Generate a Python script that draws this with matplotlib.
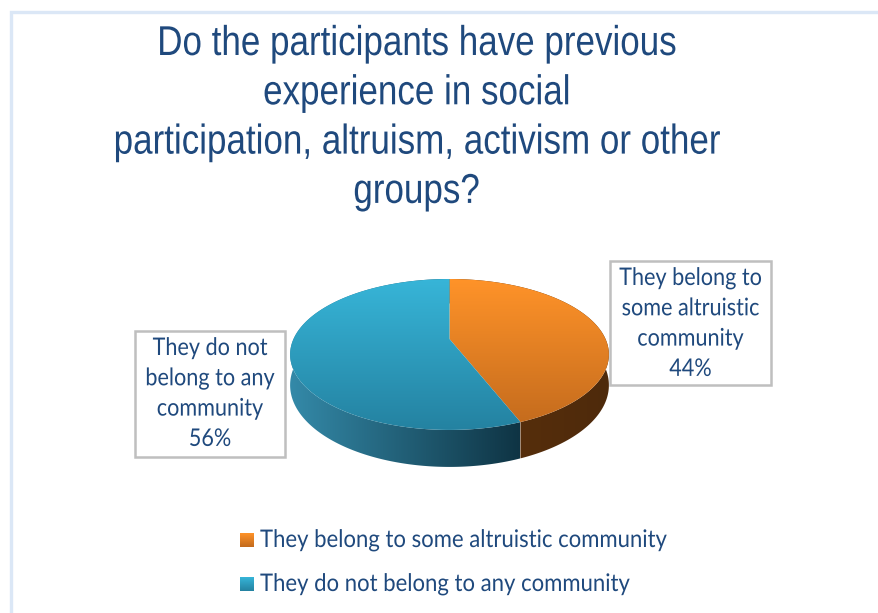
import numpy as np
import matplotlib
matplotlib.use("Agg")
import matplotlib.pyplot as plt
from matplotlib import font_manager as fm
from matplotlib.colors import LinearSegmentedColormap
from matplotlib.patches import Polygon, Rectangle
from matplotlib.patheffects import AbstractPathEffect
from matplotlib.transforms import Affine2D

title_lines = ["Do the participants have previous", "experience in social",
               "participation, altruism, activism or other", "groups?"]
categories = ["They belong to some altruistic community", "They do not belong to any community"]
values = [44, 56]
callouts = [["They belong to", "some altruistic", "community"],
            ["They do not", "belong to any", "community"]]

NAVY = "#1f497d"
names = {f.name for f in fm.fontManager.ttflist}
narrow = "Liberation Sans Narrow" in names
title_font = "Liberation Sans Narrow" if narrow else "Liberation Sans"


class Condense(AbstractPathEffect):
    """Narrow a text's glyphs horizontally around a fixed x position (in pixels)."""

    def __init__(self, factor, x_px):
        super().__init__()
        self.factor = factor
        self.x_px = x_px

    def draw_path(self, renderer, gc, tpath, affine, rgbFace=None):
        squeeze = Affine2D().translate(-self.x_px, 0).scale(self.factor, 1).translate(self.x_px, 0)
        renderer.draw_path(gc, tpath, affine + squeeze, rgbFace)


fig = plt.figure(figsize=(8.79, 6.13), dpi=100)
ax = fig.add_axes([0, 0, 1, 1])
ax.set_xlim(0, 879)
ax.set_ylim(613, 0)
ax.axis("off")

# chart frame: only the top and left edges fall inside the canvas
ax.plot([11, 11, 879], [613, 11.5, 11.5], color="#dbe7f6", lw=2.4, solid_joinstyle="miter")

TITLE_X = 416.5
for i, line in enumerate(title_lines):
    t = ax.text(TITLE_X, 55 + i * 49.3, line, ha="center", va="baseline", color=NAVY,
                fontsize=30, family=title_font)
    if not narrow:
        t.set_path_effects([Condense(0.84, TITLE_X)])


def gradient(clip, extent, c0, c1, horizontal=False, z=2):
    cmap = LinearSegmentedColormap.from_list("g", [c0, c1])
    ramp = np.linspace(0, 1, 256)
    ramp = ramp[None, :] if horizontal else ramp[:, None]
    im = ax.imshow(ramp, cmap=cmap, extent=extent, aspect="auto", zorder=z, vmin=0, vmax=1)
    im.set_clip_path(clip)
    ax.set_xlim(0, 879)
    ax.set_ylim(613, 0)


# tilted pie with perspective: far rim is flatter than the near rim
CX, CY, RX, RY, K, DEPTH = 449.5, 339.0, 156.0, 72.3, 0.205, 29.4


def rim(theta):
    X, Y = np.sin(theta), np.cos(theta)
    w = 1 + K * Y
    return CX + RX * X / w, CY - RY * Y / w, DEPTH / w


fracs = np.cumsum([0] + values) / sum(values) * 2 * np.pi
palette = [
    dict(top=("#ff9329", "#c26a1d"), side=("#5c310b", "#4e2a0c"), ext=(449, 610, 430, 279)),
    dict(top=("#37b5d8", "#2482a1"), side=("#348aa9", "#0f3444"), ext=(289, 520, 430, 279)),
]
# sides first, so the top faces cover the hidden far wall
for i in range(2):
    t = np.linspace(fracs[i], fracs[i + 1], 300)
    x, y, d = rim(t)
    wall = np.r_[np.c_[x, y], np.c_[x, y + d][::-1]]
    clip = Polygon(wall, closed=True, transform=ax.transData, fc="none", ec="none")
    ax.add_patch(clip)
    left, right = palette[i]["ext"][:2]
    gradient(clip, (left, right, 470, 279), *palette[i]["side"], horizontal=True, z=2)
for i in range(2):
    t = np.linspace(fracs[i], fracs[i + 1], 300)
    x, y, _ = rim(t)
    face = np.r_[[[CX, CY]], np.c_[x, y]]
    clip = Polygon(face, closed=True, transform=ax.transData, fc="none", ec="none")
    ax.add_patch(clip)
    l, r, b, tp = palette[i]["ext"]
    gradient(clip, (l, r, b, tp), *palette[i]["top"], z=3)

# value callouts
boxes = [(610, 261, 161, 124), (135, 331, 150, 126)]
for (bx, by, bw, bh), lines, val in zip(boxes, callouts, values):
    ax.add_patch(Rectangle((bx, by), bw, bh, fc="white", ec="#bfbfbf", lw=1.8, zorder=1))
    mid = bx + bw / 2
    for j, line in enumerate(lines + [f"{val}%"]):
        t = ax.text(mid, by + 24 + j * 30.3, line, ha="center", va="baseline",
                    color=NAVY, fontsize=17.5, family="Lato", zorder=4)
        t.set_path_effects([Condense(0.89, mid)])

# legend
for k, (cat, pal) in enumerate(zip(categories, palette)):
    y0 = 533 + k * 44
    clip = Rectangle((240, y0), 14, 14, transform=ax.transData, fc="none", ec="none")
    ax.add_patch(clip)
    gradient(clip, (240, 254, y0 + 14, y0), *pal["top"], z=3)
    t = ax.text(260, y0 + 14, cat, ha="left", va="baseline", color=NAVY,
                fontsize=17.5, family="Lato")
    t.set_path_effects([Condense(0.91, 260)])

fig.savefig("out.png", dpi=100)
